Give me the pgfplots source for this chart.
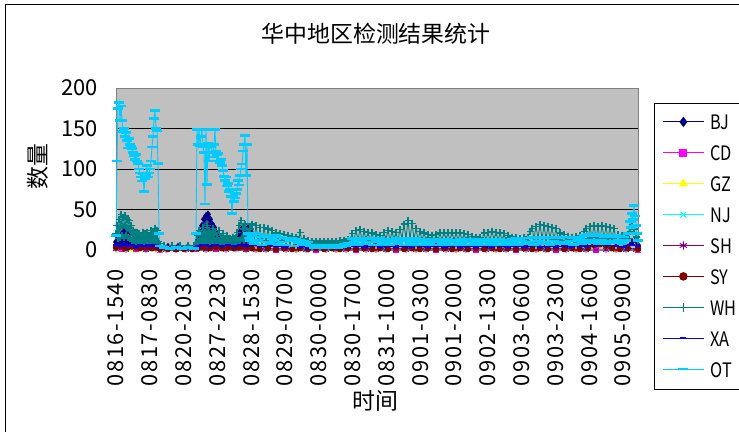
\documentclass[border=0pt]{standalone}
\usepackage{fontspec}
\setmainfont{Noto Sans CJK SC}
\usepackage{pgfplots}
\pgfplotsset{compat=1.18}
\definecolor{cBJ}{RGB}{0,0,128}
\definecolor{cCD}{RGB}{255,0,255}
\definecolor{cGZ}{RGB}{255,255,0}
\definecolor{cNJ}{RGB}{0,255,255}
\definecolor{cSH}{RGB}{128,0,128}
\definecolor{cSY}{RGB}{128,0,0}
\definecolor{cWH}{RGB}{0,128,128}
\definecolor{cXA}{RGB}{0,0,255}
\definecolor{cOT}{RGB}{0,204,255}
\definecolor{plotgray}{RGB}{192,192,192}
\definecolor{axisgray}{RGB}{128,128,128}
\begin{document}
\begin{tikzpicture}
\useasboundingbox (0bp,0bp) rectangle (739bp,432bp);
\fill[white] (0bp,0bp) rectangle (739bp,432bp);
\draw[black, line width=0.9bp] (5bp,-10bp) -- (5bp,428bp) -- (760bp,428bp);
\node[font=\fontsize{23}{23}\selectfont] at (376bp,398bp) {华中地区检测结果统计};
\node[font=\fontsize{23}{23}\selectfont, rotate=90] at (38bp,265bp) {数量};
\node[font=\fontsize{23}{23}\selectfont] at (375bp,31bp) {时间};
\begin{axis}[
  at={(116bp,182bp)}, anchor=south west,
  scale only axis, width=522bp, height=162bp,
  xmin=0, xmax=522, ymin=0, ymax=200,
  axis background/.style={fill=plotgray},
  axis line style={draw=axisgray, line width=0.8bp},
  ymajorgrids, major grid style={draw=black, line width=0.8bp},
  ytick={0,50,100,150,200},
  xtick={0,33.8,67.6,101.4,135.2,169,202.8,236.6,270.4,304.2,338,371.8,405.6,439.4,473.2,507},
  xticklabels={0816-1540,0817-0830,0820-2030,0827-2230,0828-1530,0829-0700,0830-0000,0830-1700,0831-1000,0901-0300,0901-2000,0902-1300,0903-0600,0903-2300,0904-1600,0905-0900},
  major tick length=0pt,
  tick label style={font=\fontsize{22}{22}\selectfont},
  /pgf/number format/assume math mode=true,
  yticklabel style={inner xsep=18bp},
  xticklabel style={rotate=90, anchor=east, inner xsep=19bp, inner ysep=0bp, font=\fontsize{22}{22}\selectfont\addfontfeature{LetterSpace=7}},
  clip=false,
  every axis plot/.append style={line width=0.9bp},
  legend style={at={(rel axis cs:1.0307,0.907)}, anchor=north west,
    draw=black, line width=0.8bp, fill=white,
    inner xsep=8bp, inner ysep=4bp, row sep=0bp, column sep=0bp,
    font=\fontsize{20}{20}\selectfont\addfontfeature{FakeStretch=0.82},
    nodes={inner xsep=6bp, inner ysep=0bp, text height=22.5bp, text depth=8.4bp, text width=40bp, align=left}},
  legend cell align=left,
  legend image code/.code={\draw[mark repeat=2,mark phase=2,#1] plot coordinates {(0bp,1bp) (20.5bp,1bp) (41bp,1bp)};},
]
\addplot[cBJ, mark=diamond*, mark size=3.2bp, mark options={solid}, legend image post style={mark size=4.5bp}] coordinates {
(0,10) (1,4) (2,16) (3,5) (4,14) (5,4) (6,20) (7,5) (8,22) (9,4) (10,14) (11,5) (12,18) (13,4) (14,9) (16,10) (18,6) (20,5) (24,4) (28,5) (32,3) (36,5) (40,4) (44,3) (52,4) (62,4) (72,4) (80,5) (82,12) (83,6) (84,22) (85,8) (86,30) (87,10) (88,38) (89,8) (90,42) (91,10) (92,44) (93,8) (94,38) (95,10) (96,32) (97,8) (98,28) (99,6) (100,22) (101,6) (102,16) (104,10) (106,8) (108,6) (112,5) (116,5) (118,8) (120,14) (121,6) (122,18) (123,6) (124,22) (125,8) (126,26) (127,6) (128,29) (129,8) (130,24) (131,6) (132,27) (133,8) (134,25) (135,8) (136,20) (138,10) (142,5) (150,4) (160,5) (170,4) (180,5) (190,4) (200,3) (210,4) (220,3) (230,4) (240,5) (250,4) (260,5) (270,4) (280,5) (290,4) (300,5) (310,4) (320,5) (330,4) (340,5) (350,4) (360,5) (370,4) (380,5) (390,4) (400,5) (410,4) (420,5) (430,4) (440,5) (450,4) (460,5) (470,5) (480,6) (490,5) (500,4) (510,5) (516,10) (520,12) (522,6)};
\addlegendentry{BJ}
\addplot[cCD, mark=square*, mark size=2.5bp, mark options={solid}, legend image post style={mark size=3.5bp}] coordinates {
(0,2) (6,1) (12,2) (20,1) (30,1) (44,0) (80,1) (100,1) (130,1) (160,0) (200,0) (240,0) (280,0) (320,0) (360,0) (400,0) (440,0) (480,0) (522,0)};
\addlegendentry{CD}
\addplot[cGZ, mark=triangle*, mark size=3.2bp, mark options={solid}, legend image post style={mark size=4.5bp}] coordinates {
(0,1) (8,2) (16,1) (26,1) (38,1) (44,0) (80,1) (110,1) (140,0) (180,0) (220,0) (260,0) (300,0) (340,0) (380,0) (420,0) (460,0) (500,0) (522,0)};
\addlegendentry{GZ}
\addplot[cNJ, mark=x, mark size=3.2bp, mark options={solid}, legend image post style={mark size=4.2bp}] coordinates {
(0,2) (10,1) (20,2) (30,1) (44,0) (70,1) (90,1) (120,1) (150,0) (190,0) (230,1) (270,0) (310,0) (350,0) (390,0) (430,0) (470,0) (510,0) (522,1)};
\addlegendentry{NJ}
\addplot[cSH, mark=asterisk, mark size=3.2bp, mark options={solid}, legend image post style={mark size=4.2bp}] coordinates {
(0,1) (10,0) (20,1) (30,0) (40,1) (50,0) (60,0) (70,0) (80,1) (90,0) (100,1) (110,0) (120,1) (130,0) (140,0) (150,0) (160,0) (170,0) (180,0) (190,0) (200,0) (210,0) (220,0) (230,0) (240,0) (250,0) (260,0) (270,0) (280,0) (290,0) (300,0) (310,0) (320,0) (330,0) (340,0) (350,0) (360,0) (370,0) (380,0) (390,0) (400,0) (410,0) (420,0) (430,0) (440,0) (450,0) (460,0) (470,0) (480,0) (490,0) (500,0) (510,0) (520,0) (522,1)};
\addlegendentry{SH}
\addplot[cSY, mark=*, mark size=2.6bp, mark options={solid}, legend image post style={mark size=3.8bp}] coordinates {
(0,3) (4,4) (8,2) (12,3) (16,4) (20,3) (24,2) (28,3) (32,4) (36,2) (40,3) (44,1) (52,1) (60,1) (68,1) (76,1) (82,2) (88,3) (94,2) (100,3) (106,2) (112,3) (118,2) (124,3) (130,2) (136,2) (144,1) (152,2) (160,1) (168,2) (176,1) (184,2) (192,1) (200,2) (208,1) (216,2) (224,1) (232,2) (240,1) (248,2) (256,1) (264,2) (272,1) (280,2) (288,1) (296,2) (304,1) (312,2) (320,1) (328,2) (336,1) (344,2) (352,1) (360,2) (368,1) (376,2) (384,1) (392,2) (400,1) (408,2) (416,1) (424,2) (432,1) (440,2) (448,1) (456,2) (464,1) (472,2) (478,6) (484,7) (490,5) (496,2) (504,1) (512,2) (522,1)};
\addlegendentry{SY}
\addplot[cWH, mark=+, mark size=3.5bp, mark options={solid, line width=1.2bp}, legend image post style={mark size=4.5bp}] coordinates {
(0,20) (1,30) (2,14) (3,38) (4,16) (5,44) (6,18) (7,40) (8,15) (9,42) (10,18) (11,38) (12,15) (13,36) (14,14) (15,30) (16,12) (17,24) (18,12) (19,22) (20,10) (21,22) (22,12) (23,20) (24,10) (25,18) (26,11) (27,22) (28,10) (29,20) (30,11) (31,21) (32,10) (33,18) (34,11) (35,24) (36,12) (37,22) (38,11) (39,26) (40,12) (41,24) (42,10) (43,8) (44,5) (48,5) (56,5) (64,5) (72,5) (78,5)
(80,8) (81,18) (82,10) (83,24) (84,12) (85,20) (86,10) (87,28) (88,12) (89,22) (90,10) (91,30) (92,12) (93,24) (94,10) (95,20) (96,12) (97,27) (98,10) (99,22) (100,12) (101,18) (102,10) (103,24) (104,11) (105,15) (106,10) (107,20) (108,10) (109,13) (110,9) (111,18) (112,10) (113,14) (114,9) (115,11) (116,10) (117,16) (118,9) (119,14) (120,10) (121,22) (122,12) (123,30) (124,12) (125,36) (126,14) (127,26) (128,12) (129,32) (130,14) (131,24) (132,12) (133,20) (134,26)
(136,32) (138,12) (140,30) (142,13) (144,28) (146,11) (148,28) (150,12) (152,26) (154,11) (156,24) (158,12) (160,21) (162,11) (164,20) (166,12) (168,19) (170,11) (172,18) (174,10) (176,17) (178,11) (180,16) (182,10) (184,22) (186,11) (188,14) (190,9) (192,12) (194,8) (196,11) (198,7) (200,10) (202,7) (204,11) (206,7) (208,10) (210,7) (212,11) (214,8) (216,10) (218,7) (220,11) (222,8) (224,12) (226,9) (228,12) (230,10) (232,13) (234,11) (236,20) (238,12) (240,24) (242,13) (244,25) (246,12) (248,23) (250,13) (252,22) (254,12) (256,21) (258,12) (260,19) (262,12) (264,18) (266,12) (268,22) (270,13) (272,24) (274,12) (276,23) (278,13) (280,22) (282,12) (284,25) (286,14) (288,32) (290,15) (292,36) (294,14) (296,33) (298,13) (300,27) (302,12) (304,23) (306,12) (308,21) (310,12) (312,19) (314,12) (316,18) (318,11) (320,19) (322,12) (324,21) (326,12) (328,22) (330,13) (332,21) (334,12) (336,22) (338,12) (340,21) (342,12) (344,21) (346,12) (348,20) (350,12) (352,19) (354,11) (356,17) (358,11) (360,16) (362,11) (364,15) (366,12) (368,21) (370,12) (372,22) (374,12) (376,23) (378,13) (380,22) (382,12) (384,21) (386,12) (388,20) (390,12) (392,18) (394,11) (396,16) (398,11) (400,15) (402,11) (404,14) (406,12) (408,15) (410,12) (412,16) (414,23) (416,27) (418,14) (420,29) (422,15) (424,31) (426,14) (428,30) (430,14) (432,29) (434,14) (436,28) (438,13) (440,27) (442,13) (444,21) (446,12) (448,19) (450,12) (452,17) (454,12) (456,16) (458,12) (460,17) (462,12) (464,18) (466,13) (468,23) (470,27) (472,14) (474,29) (476,15) (478,30) (480,15) (482,29) (484,14) (486,30) (488,15) (490,29) (492,14) (494,28) (496,14) (498,27) (500,13) (502,19) (504,12) (506,18) (508,12) (510,16) (512,14) (514,23) (516,31) (518,26) (520,16) (522,12)};
\addlegendentry{WH}
\addplot[cXA, mark=-, mark size=3bp, mark options={solid, line width=2.4bp}] coordinates {
(0,6) (4,5) (8,7) (12,5) (16,6) (20,4) (24,6) (28,5) (32,6) (36,5) (40,6) (44,3) (52,3) (60,2) (68,3) (76,3) (82,5) (88,6) (94,5) (100,6) (106,5) (112,6) (118,5) (124,6) (130,5) (136,6) (144,5) (152,6) (160,5) (168,4) (176,5) (184,4) (192,3) (200,4) (208,3) (216,4) (224,3) (232,4) (240,5) (248,4) (256,5) (264,4) (272,5) (280,4) (288,5) (296,4) (304,5) (312,4) (320,5) (328,4) (336,5) (344,4) (352,5) (360,4) (368,5) (376,4) (384,5) (392,4) (400,5) (408,4) (416,5) (424,4) (432,5) (440,4) (448,5) (456,4) (464,5) (472,5) (480,7) (486,8) (492,6) (500,5) (508,4) (516,6) (522,5)};
\addlegendentry{XA}
\addplot[cOT, mark=-, mark size=5bp, mark options={solid, line width=2.6bp}] coordinates {
(0,18) (1,110) (2,175) (3,182) (4,160) (5,178) (6,160) (7,146) (8,150) (9,140) (10,145) (11,135) (12,126) (13,138) (14,130) (15,128) (16,125) (17,120) (18,117) (19,112) (20,118) (21,110) (22,107) (23,100) (24,95) (25,90) (26,85) (27,94) (28,72) (29,88) (30,92) (31,104) (32,90) (33,95) (34,100) (35,110) (36,127) (37,140) (38,162) (39,172) (40,150) (41,147) (42,107) (43,20) (44,5)
(48,3) (54,2) (60,3) (66,2) (72,3) (78,2)
(80,20) (81,149) (82,130) (83,149) (84,129) (85,140) (86,149) (87,128) (88,120) (89,57) (90,149) (91,81) (92,132) (93,110) (94,129) (95,128) (96,120) (97,115) (98,130) (99,149) (100,122) (101,118) (102,119) (103,110) (104,108) (105,112) (106,104) (107,98) (108,91) (109,86) (110,90) (111,79) (112,82) (113,72) (114,75) (115,66) (116,45) (117,66) (118,60) (119,64) (120,70) (121,75) (122,86) (123,80) (124,92) (125,100) (126,106) (127,122) (128,130) (129,141) (130,92) (131,130) (132,20) (133,15)
(134,12) (136,18) (138,8) (140,20) (142,12) (144,16) (146,6) (148,18) (150,10) (152,17) (154,8) (156,15) (158,12) (160,18) (162,7) (164,16) (166,10) (168,15) (170,6) (172,14) (174,11) (176,14) (178,5) (180,13) (182,9) (184,12) (186,6) (188,11) (190,8) (192,10) (194,5) (196,5) (198,3) (200,6) (202,3) (204,5) (206,3) (208,6) (210,3) (212,5) (214,3) (216,6) (218,4) (220,5) (222,3) (224,6) (226,4) (228,7) (230,5) (232,8) (234,6) (236,14) (238,10) (240,13) (242,7) (244,14) (246,11) (248,15) (250,8) (252,14) (254,10) (256,15) (258,6) (260,13) (262,10) (264,14) (266,7) (268,13) (270,9) (272,12) (274,6) (276,13) (278,10) (280,14) (282,8) (284,15) (286,11) (288,13) (290,6) (292,14) (294,9) (296,13) (298,7) (300,14) (302,10) (304,12) (306,6) (308,13) (310,9) (312,12) (314,7) (316,13) (318,10) (320,12) (322,6) (324,13) (326,9) (328,12) (330,7) (332,13) (334,10) (336,12) (338,6) (340,12) (342,9) (344,13) (346,7) (348,12) (350,10) (352,13) (354,6) (356,13) (358,9) (360,12) (362,7) (364,13) (366,10) (368,12) (370,6) (372,13) (374,9) (376,12) (378,7) (380,13) (382,10) (384,13) (386,6) (388,12) (390,9) (392,12) (394,7) (396,13) (398,10) (400,14) (402,7) (404,14) (406,11) (408,15) (410,8) (412,15) (414,10) (416,16) (418,7) (420,15) (422,11) (424,16) (426,8) (428,15) (430,10) (432,16) (434,7) (436,15) (438,11) (440,16) (442,8) (444,15) (446,10) (448,16) (450,8) (452,16) (454,11) (456,15) (458,7) (460,16) (462,12) (464,15) (466,8) (468,18) (470,12) (472,19) (474,9) (476,18) (478,12) (480,19) (482,8) (484,18) (486,12) (488,17) (490,8) (492,18) (494,11) (496,17) (498,9) (500,18) (502,12) (504,17) (506,8) (508,16) (510,12) (512,20) (514,35) (515,28) (516,45) (517,38) (518,55) (519,42) (520,30) (521,20) (522,12)};
\addlegendentry{OT}
\end{axis}
\end{tikzpicture}
\end{document}
